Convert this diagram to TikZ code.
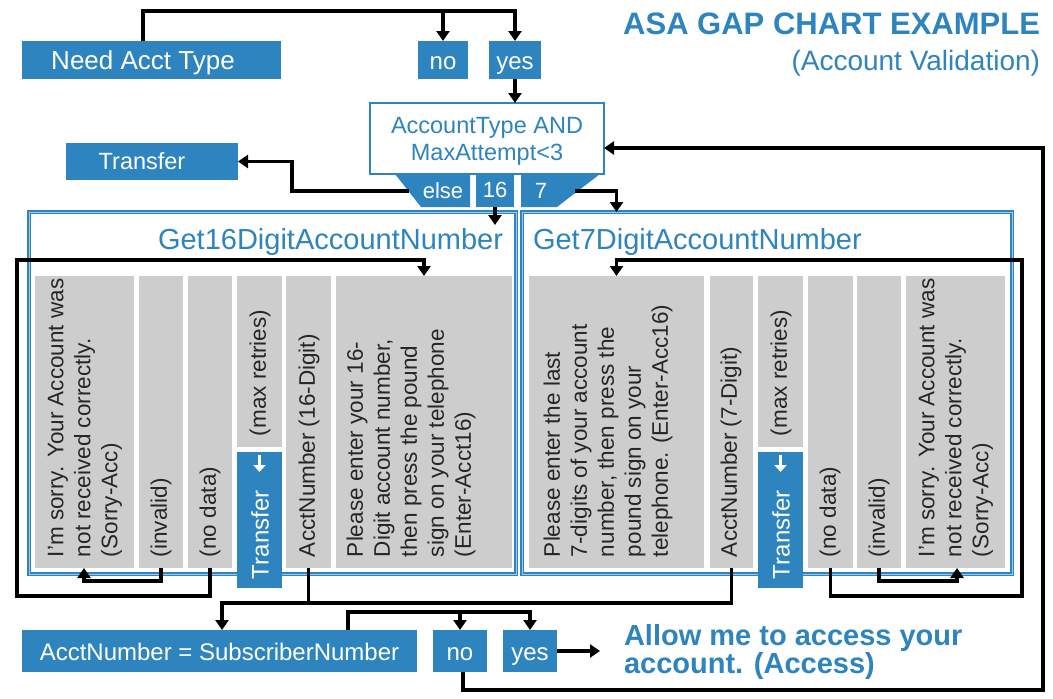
\documentclass[tikz,border=0pt]{standalone}
\usepackage{fontspec}
\setmainfont{Liberation Sans}
\usetikzlibrary{arrows.meta}
\definecolor{brand}{RGB}{46,132,190}
\definecolor{panelgray}{RGB}{205,205,205}

\begin{document}
\begin{tikzpicture}[x=1pt,y=-1pt,
  every node/.style={inner sep=0pt, outer sep=0pt},
  link/.style={draw=black, line width=3.4pt},
  flow/.style={link, -{Triangle[length=10pt,width=13pt]}},
  bluebox/.style={fill=brand, text=white, anchor=north west},
  graycol/.style={fill=panelgray, anchor=north west},
  coltext/.style={rotate=90, anchor=west, align=left, text=black!85,
    font=\fontsize{22.5}{27}\selectfont},
  xfertext/.style={rotate=90, anchor=west, text=white,
    font=\fontsize{24}{28}\selectfont},
  frame/.style={draw=brand, line width=1.8pt, double=brand!45!white,
    double distance=0.6pt, fill=white, anchor=north west},
  tabtext/.style={text=white, font=\fontsize{22}{26}\selectfont,
    text height=17pt, text depth=3pt},
  boxfont/.style={font=\fontsize{24}{28}\selectfont,
    text height=21pt, text depth=3pt},
]
\useasboundingbox (0,0) rectangle (1053,699);
\fill[white] (0,0) rectangle (1053,699);

% ---------- header ----------
\node[anchor=base east, text=brand, font=\bfseries\fontsize{31}{34}\selectfont]
  (title) at (1040,34) {ASA GAP CHART EXAMPLE};
\node[anchor=base east, text=brand, font=\fontsize{28}{32}\selectfont]
  (subtitle) at (1040,70) {(Account Validation)};

% ---------- entry question ----------
\node[bluebox, minimum width=259pt, minimum height=38pt,
  font=\fontsize{26}{30}\selectfont, text height=22pt, text depth=4pt]
  (needacct) at (22,41) {Need Acct Type\hspace*{17pt}};
\node[bluebox, boxfont, minimum width=50pt, minimum height=38pt] (noTop) at (418,41) {no};
\node[bluebox, boxfont, minimum width=52pt, minimum height=38pt] (yesTop) at (489,41) {yes};

\draw[flow] (143,0 |- needacct.north) -- (143,11) -| (yesTop.north);
\draw[flow] (noTop.north |- 0,11) -- (noTop.north);

% ---------- decision ----------
\node[draw=brand, line width=2.5pt, fill=white, anchor=north west,
  minimum width=234pt, minimum height=71pt, align=center, text=brand,
  font=\fontsize{23.5}{27}\selectfont] (cond) at (370,103)
  {\rule{0pt}{21pt}AccountType AND\\MaxAttempt<3};
\draw[flow] (yesTop.south) -- (yesTop.south |- cond.north);

% branch tabs under the decision
\fill[brand] (395,174) -- (470,174) -- (470,207) -- (421,207) -- cycle;
\fill[brand] (521,174) -- (600,174) -- (557,207) -- (521,207) -- cycle;
\node[tabtext] (elseT) at (443,191) {else};
\node[bluebox, tabtext, minimum width=38pt, minimum height=33pt] (tab16) at (476,174) {16};
\node[tabtext] (sevenT) at (541,191) {7};
\coordinate (elseout) at (409,191);
\coordinate (sevenout) at (575,191);

% transfer on else
\node[bluebox, minimum width=172pt, minimum height=37pt,
  font=\fontsize{23.5}{28}\selectfont, text height=19pt, text depth=4pt]
  (xferTop) at (66,143) {Transfer\hspace*{20pt}};
\draw[flow] (elseout) -- (292,191) |- (xferTop.east);

% ---------- sub-dialog panels ----------
\node[frame, minimum width=487pt, minimum height=362pt] (panelL) at (29,212) {};
\node[frame, minimum width=490pt, minimum height=362pt] (panelR) at (522,212) {};
\node[anchor=base east, text=brand, font=\fontsize{29}{32}\selectfont]
  (titleL) at (503,249) {Get16DigitAccountNumber};
\node[anchor=base west, text=brand, font=\fontsize{29}{32}\selectfont]
  (titleR) at (533,249) {Get7DigitAccountNumber};

% left panel columns
\node[graycol, minimum width=99pt, minimum height=292pt] (sorryL) at (35,276) {};
\node[graycol, minimum width=44pt, minimum height=292pt] (invalidL) at (139,276) {};
\node[graycol, minimum width=44pt, minimum height=292pt] (nodataL) at (188,276) {};
\node[graycol, minimum width=45pt, minimum height=171pt] (retryL) at (237,276) {};
\node[graycol, minimum width=45pt, minimum height=292pt] (acctL) at (286,276) {};
\node[graycol, minimum width=176pt, minimum height=292pt] (pleaseL) at (336,276) {};
\node[bluebox, minimum width=45pt, minimum height=136pt] (xferL) at (237,452) {};

\node[coltext] (sorryLt) at (85,557) {I'm sorry. Your Account was\\not received correctly.\\(Sorry-Acc)};
\node[coltext] (invalidLt) at (161,557) {(invalid)};
\node[coltext] (nodataLt) at (210,557) {(no data)};
\node[coltext] (retryLt) at (260,436) {(max retries)};
\node[xfertext] (xferLt) at (260,579) {Transfer};
\node[coltext] (acctLt) at (309,557) {AcctNumber (16-Digit)};
\node[coltext] (pleaseLt) at (411,557) {Please enter your 16-\\Digit account number,\\then press the pound\\sign on your telephone\\(Enter-Acct16)};

% right panel columns
\node[graycol, minimum width=175pt, minimum height=292pt] (pleaseR) at (529,276) {};
\node[graycol, minimum width=43pt, minimum height=292pt] (acctR) at (710,276) {};
\node[graycol, minimum width=45pt, minimum height=171pt] (retryR) at (758,276) {};
\node[graycol, minimum width=45pt, minimum height=292pt] (nodataR) at (808,276) {};
\node[graycol, minimum width=44pt, minimum height=292pt] (invalidR) at (857,276) {};
\node[graycol, minimum width=99pt, minimum height=292pt] (sorryR) at (906,276) {};
\node[bluebox, minimum width=45pt, minimum height=136pt] (xferR) at (758,452) {};

\node[coltext] (pleaseRt) at (608,557) {Please enter the last\\7-digits of your account\\number, then press the\\pound sign on your\\telephone. (Enter-Acc16)};
\node[coltext] (acctRt) at (731,557) {AcctNumber (7-Digit)};
\node[coltext] (retryRt) at (781,436) {(max retries)};
\node[xfertext] (xferRt) at (781,579) {Transfer};
\node[coltext] (nodataRt) at (830,557) {(no data)};
\node[coltext] (invalidRt) at (879,557) {(invalid)};
\node[coltext] (sorryRt) at (956,557) {I'm sorry. Your Account was\\not received correctly.\\(Sorry-Acc)};

% max retries drops into transfer
\foreach \b in {xferL, xferR}
  \draw[white, line width=3pt, -{Triangle[length=7pt,width=12pt]}]
    ([yshift=-3pt]\b.north) -- ([yshift=-20pt]\b.north);

% ---------- flow into and inside the panels ----------
\draw[flow] (tab16.south) -- ++(0,18);
\draw[flow] (sevenout) -| (pleaseR.north |- panelR.north);

\draw[flow] (nodataL.south) |- (17,596) |- (pleaseL.north |- 0,260) -- (pleaseL.north);
\draw[flow] (invalidL.south) |- (84,581) -- (sorryL.south -| 84,0);

\draw[flow] (nodataR.south) |- (1022,596) |- (pleaseR.north |- 0,260) -- (pleaseR.north);
\draw[flow] (invalidR.south) |- (957,581) -- (sorryR.south -| 957,0);

% ---------- account check ----------
\node[bluebox, boxfont, minimum width=395pt, minimum height=42pt] (subbox) at (22,630) {AcctNumber = SubscriberNumber};
\node[bluebox, boxfont, minimum width=54pt, minimum height=42pt] (noBot) at (433,630) {no};
\node[bluebox, boxfont, minimum width=54pt, minimum height=42pt] (yesBot) at (503,630) {yes};

\draw[link] (acctL.south) -- (acctL.south |- 0,603);
\draw[flow] (acctR.south) |- (222,603) -- (subbox.north -| 222,0);

\draw[flow] (348,0 |- subbox.north) -- (348,612) -| (yesBot.north);
\draw[flow] (noBot.north |- 0,612) -- (noBot.north);

\node[anchor=north west, align=left, text=brand,
  font=\bfseries\fontsize{29}{26}\selectfont] (access) at (624,624)
  {Allow me to access your\\account. (Access)};
\draw[flow] (yesBot.east) -- ([xshift=-24pt]yesBot.east -| access.west);

% retry loop back to the decision
\draw[flow] (463,0 |- noBot.south) |- (1043,690) |- (cond.east |- 0,148);
\end{tikzpicture}
\end{document}
